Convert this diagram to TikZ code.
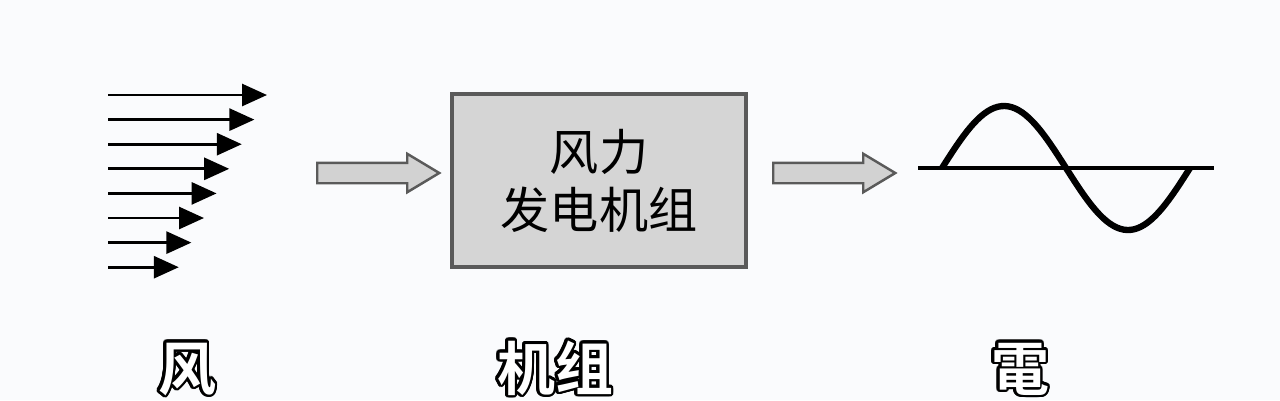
\documentclass[tikz,border=0pt]{standalone}
\usepackage{fontspec}
\usepackage{contour}
\usetikzlibrary{arrows.meta,shapes.arrows}
\newfontfamily\cjk{Noto Sans CJK SC}
\newfontfamily\cjkbold{Noto Sans CJK SC Bold}
\contourlength{0.7pt}
\contournumber{24}
\definecolor{paper}{HTML}{FAFBFD}
\definecolor{boxgray}{HTML}{D5D5D5}
\definecolor{arrowgray}{HTML}{D2D2D2}
\definecolor{edgegray}{HTML}{5A5A5A}

\begin{document}
\begin{tikzpicture}[
        unit/.style={rectangle, draw=edgegray, line width=0.9pt, fill=boxgray, minimum width=2.94cm, minimum height=1.73cm, align=center, font=\cjk\fontsize{14}{16.5}\selectfont},
        flow/.style={single arrow, draw=edgegray, line width=0.7pt, fill=arrowgray, minimum height=1.22cm, inner sep=0.09cm, single arrow head extend=0.09cm, single arrow tip angle=62, anchor=tail},
        wind/.style={line width=0.8pt, -{Triangle[length=2.5mm,width=2.2mm]}},
        wave/.style={line width=1.8pt, line join=round},
        caption/.style={anchor=base, inner sep=0pt, font=\cjkbold\fontsize{16.5}{16.5}\selectfont}
    ]
        \useasboundingbox[fill=paper] (0,0) rectangle (12.8,4);

        % Wind: arrows get shorter from top to bottom
        \foreach \i in {0,...,7} {
            \draw[wind] (1.08,3.05-0.246*\i) -- (2.67-0.126*\i,3.05-0.246*\i);
        }

        % Turbine block and flow arrows
        \node[unit] (turbine) at (5.99,2.195) {风力\\发电机组};
        \node[flow] (flow_in) at (3.16,2.27) {};
        \node[flow] (flow_out) at (7.72,2.27) {};

        % Output: one period of a sine wave on its axis
        \coordinate (axis_left) at (9.18,2.32);
        \coordinate (axis_right) at (12.14,2.32);
        \draw[line width=1.1pt] (axis_left) -- (axis_right);
        \draw[wave] plot[domain=0:360, samples=72] ({9.42+\x/360*2.48},{2.32+0.62*sin(\x)});

        % Captions along the bottom
        \node[caption] (cap_wind) at (1.87,0.1) {\contour{black}{\textcolor{white}{风}}};
        \node[caption] (cap_turbine) at (5.55,0.1) {\contour{black}{\textcolor{white}{机组}}};
        \node[caption] (cap_power) at (10.2,0.1) {\contour{black}{\textcolor{white}{電}}};

    \end{tikzpicture}
\end{document}
